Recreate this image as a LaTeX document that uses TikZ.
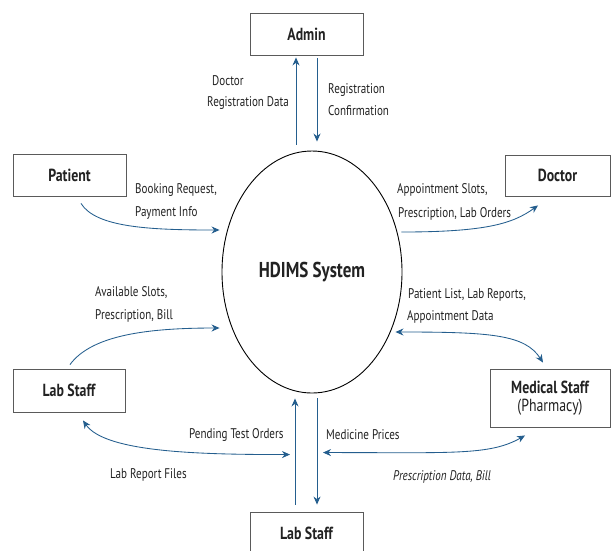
\documentclass[tikz,border=0pt]{standalone}
\usepackage{fontspec}
\setmainfont{PT Sans}[FakeStretch=0.79]
\usetikzlibrary{shapes.geometric,arrows.meta}
\definecolor{flowblue}{HTML}{245E8E}
\definecolor{boxgray}{HTML}{5A5A5A}
\definecolor{inkgray}{HTML}{222222}
\tikzset{
  entity/.style={draw=boxgray, line width=0.9pt, rectangle, minimum width=113pt,
    minimum height=42pt, inner sep=0pt, font=\fontsize{17.5}{19}\selectfont\bfseries,
    text=inkgray, align=center},
  process/.style={draw=black, line width=0.9pt, ellipse, minimum width=180pt,
    minimum height=242pt, inner sep=0pt, font=\fontsize{21.5}{23}\selectfont\bfseries,
    text=inkgray},
  flow/.style={draw=flowblue, line width=0.85pt, -{Stealth[length=8pt,width=7pt]}},
  flowboth/.style={flow, {Stealth[length=8pt,width=7pt]}-{Stealth[length=8pt,width=7pt]}},
  lbl/.style={anchor=west, inner sep=0pt, text=inkgray, font=\fontsize{14}{16}\selectfont},
}
\begin{document}
\begin{tikzpicture}[x=1pt,y=-1pt]
\clip (0,0) rectangle (612,550);
\fill[white] (0,0) rectangle (612,550);

% external entities and the central process
\node[process] (sys) at (312,272) {HDIMS System};
\node[entity] (admin) at (306.5,34) {Admin};
\node[entity] (patient) at (69.5,175) {Patient};
\node[entity, minimum width=105pt, minimum height=41pt] (doctor) at (557.5,175.5) {Doctor};
\node[entity, minimum width=112pt, minimum height=43pt] (labL) at (69,390.5) {Lab Staff};
\node[entity, minimum width=120pt, minimum height=58pt] (med) at (550,398)
  {Medical Staff\\[-1pt]{\mdseries (Pharmacy)}};
\node[entity] (labB) at (306.5,533) {Lab Staff};

% Admin data flows
\draw[flow] ([xshift=-16pt,yshift=6pt]sys.north) -- ([xshift=-10.5pt,yshift=-2pt]admin.south);
\draw[flow] ([xshift=10.5pt,yshift=-3pt]admin.south) -- ([xshift=5pt,yshift=9pt]sys.north);
\node[lbl] (l1) at (212,81) {Doctor};
\node[lbl] (l2) at (207,103) {Registration Data};
\node[lbl] (l3) at (328,90) {Registration};
\node[lbl] (l4) at (328,111) {Confirmation};

% Patient
\draw[flow] ([xshift=11.5pt,yshift=-7pt]patient.south)
  .. controls +(15,24) and +(-70,0) .. ([xshift=-2pt,yshift=42pt]sys.west);
\node[lbl] (l5) at (135,190) {Booking Request,};
\node[lbl] (l6) at (135,213) {Payment Info};

% Doctor
\draw[flow] ([xshift=-1pt,yshift=40pt]sys.east)
  .. controls +(85,0) and +(-25,18) .. ([xshift=-19.5pt,yshift=-9pt]doctor.south);
\node[lbl] (l7) at (397,190) {Appointment Slots,};
\node[lbl] (l8) at (398,214) {Prescription, Lab Orders};

% Lab staff (left)
\draw[flow] ([xshift=1pt,yshift=4pt]labL.north)
  .. controls +(22,-30) and +(-70,0) .. ([xshift=-2pt,yshift=-56pt]sys.west);
\node[lbl] (l9) at (95,293) {Available Slots,};
\node[lbl] (l10) at (95,316) {Prescription, Bill};
\draw[flowboth] ([xshift=14pt,yshift=-8pt]labL.south)
  .. controls +(22,32) and +(-90,0) .. ([xshift=-16.5pt,yshift=57pt]labB.north);
\node[lbl] (l11) at (189,435) {Pending Test Orders};
\node[lbl] (l12) at (110,475) {Lab Report Files};

% Lab staff (bottom)
\draw[flow] ([xshift=-11.5pt,yshift=7pt]labB.north) -- ([xshift=-17pt,yshift=-5pt]sys.south);
\draw[flow] ([xshift=5pt,yshift=-5pt]sys.south) -- ([xshift=10.5pt,yshift=7pt]labB.north);
\node[lbl] (l13) at (326,435) {Medicine Prices};

% Medical staff
\draw[flowboth] ([xshift=-7pt,yshift=-60pt]sys.east)
  .. controls +(95,0) and +(-18,-28) .. ([xshift=-7pt,yshift=6pt]med.north);
\node[lbl] (l14) at (408,295) {Patient List, Lab Reports,};
\node[lbl] (l15) at (407,317) {Appointment Data};
\draw[flowboth] ([xshift=16.5pt,yshift=59pt]labB.north)
  .. controls +(130,0) and +(-35,20) .. ([xshift=-25pt,yshift=-8pt]med.south);
\node[lbl, font=\fontsize{14}{16}\selectfont\itshape] (l16) at (393,477) {Prescription Data, Bill};
\end{tikzpicture}
\end{document}
